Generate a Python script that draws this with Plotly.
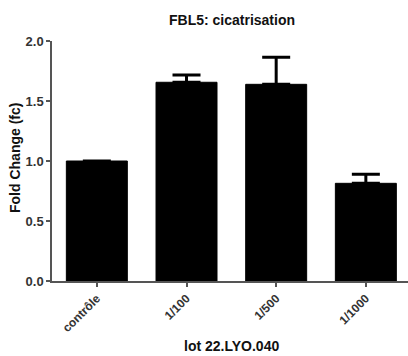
import plotly.graph_objects as go

categories = ["contrôle", "1/100", "1/500", "1/1000"]
fold_change = [1.0, 1.656, 1.639, 0.814]
error_up = [0.0, 0.061, 0.225, 0.075]
error_down = [0.0, 0.0, 0.0, 0.0]
y_ticks = [0.0, 0.5, 1.0, 1.5, 2.0]

FONT = "Liberation Sans, Arial, Helvetica, sans-serif"
W, H = 408, 356
L, R, T, B = 52, 0, 41, 75
PW, PH = W - L - R, H - T - B

fig = go.Figure(
    go.Bar(
        x=categories,
        y=fold_change,
        marker=dict(color="black", line=dict(color="black", width=1)),
        error_y=dict(
            type="data",
            symmetric=False,
            array=error_up,
            arrayminus=error_down,
            color="black",
            thickness=3,
            width=14,
        ),
    )
)

fig.update_layout(
    width=W,
    height=H,
    margin=dict(l=L, r=R, t=T, b=B, autoexpand=False),
    paper_bgcolor="white",
    plot_bgcolor="white",
    bargap=0.32,
    showlegend=False,
    font=dict(family=FONT, size=13, color="#222", weight="bold"),
    title=dict(
        text="FBL5: cicatrisation",
        x=(232 - L) / PW,
        xref="paper",
        xanchor="center",
        y=1 - 20 / H,
        yref="container",
        yanchor="middle",
        font=dict(family=FONT, size=14, color="#111", weight="bold"),
    ),
    annotations=[
        dict(
            text="Fold Change (fc)",
            xref="paper", yref="paper",
            x=(15 - L) / PW, y=(T + PH - 158) / PH,
            xanchor="center", yanchor="middle",
            textangle=-90, showarrow=False,
            font=dict(family=FONT, size=14, color="#111", weight="bold"),
        ),
        dict(
            text="lot 22.LYO.040",
            xref="paper", yref="paper",
            x=(231.5 - L) / PW, y=-(346 - (T + PH)) / PH,
            xanchor="center", yanchor="middle",
            showarrow=False,
            font=dict(family=FONT, size=14, color="#111", weight="bold"),
        ),
    ],
)

fig.update_xaxes(
    range=[-0.5, 3.47],
    automargin=False,
    showline=True,
    linecolor="#555",
    linewidth=1.5,
    ticks="outside",
    ticklen=4,
    tickwidth=1.5,
    tickcolor="#555",
    tickangle=-45,
    tickfont=dict(family=FONT, size=12, color="#333", weight="bold"),
    showgrid=False,
    zeroline=False,
)
fig.update_yaxes(
    range=[0, 2.0],
    automargin=False,
    tickvals=y_ticks,
    tickformat=".1f",
    showline=True,
    linecolor="#555",
    linewidth=1.5,
    ticks="outside",
    ticklen=4,
    tickwidth=1.5,
    tickcolor="#555",
    tickfont=dict(family=FONT, size=13, color="#333", weight="bold"),
    showgrid=False,
    zeroline=False,
)

fig.write_html(
    "out.html",
    config={"displayModeBar": False},
    post_script="document.body.style.margin='0';document.body.style.padding='0';",
)
